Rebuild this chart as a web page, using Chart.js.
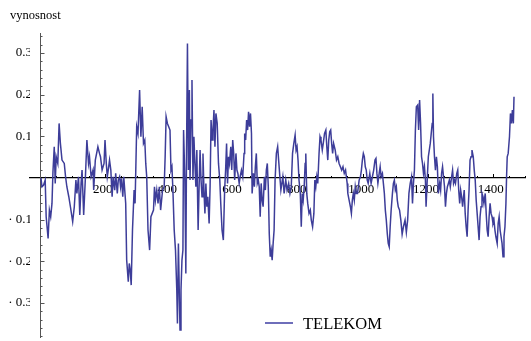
<!DOCTYPE html>
<html>
<head>
<meta charset="utf-8">
<script src="https://cdn.jsdelivr.net/npm/chart.js@4.4.0/dist/chart.umd.min.js"></script>
<style>
  html, body { margin: 0; padding: 0; background: #fff; }
  #wrap { position: relative; width: 531px; height: 341px; }
  #c { display: block; }
  .txt { position: absolute; font-family: 'Liberation Serif', 'Times New Roman', serif; color: #000; line-height: 1; white-space: nowrap; }
  #ytitle { left: 10px; top: 9px; font-size: 12.5px; }
  #legend { left: 265px; top: 316px; font-size: 16.5px; width: 130px; height: 20px; }
  #legend .swatch { position: absolute; left: 0; top: 6px; width: 28px; height: 2px; background: #6e6eba; }
  #legend .name { position: absolute; left: 38px; top: 0; }
</style>
</head>
<body>
<div id="wrap">
  <canvas id="c" width="531" height="341"></canvas>
  <div id="ytitle" class="txt"></div>
  <div id="legend" class="txt"><span class="swatch"></span><span class="name"></span></div>
</div>
<script>
// Trading day index
const days = [
  3,6,11,16,19,25,29,33,37,40,44,47,50,55,59,63,68,75,79,83,89,94,101,106,111,114,119,123,127,130,135,140,145,150,153,158,164,166,171,179,184,
  187,192,198,201,205,208,211,215,219,223,226,231,234,239,242,246,249,252,256,259,265,
  268,273,276,279,282,286,291,294,299,303,308,312,316,320,324,327,330,334,339,343,
  351,354,357,361,365,369,373,
  379,384,387,390,394,398,402,405,408,411,415,419,423,425,428,431,433,436,439,442,444,448,451,453,456,459,462,464,467,470,
  473,476,479,482,485,489,492,495,498,501,504,507,510,513,516,519,523,526,529,532,535,538,541,544,548,552,556,559,563,567,
  571,574,577,580,583,586,590,593,596,599,602,606,609,612,616,619,623,627,631,633,636,639,642,645,648,651,654,656,660,663,
  666,669,672,675,678,681,684,687,690,694,697,700,703,706,709,712,715,718,721,724,727,731,735,738,741,745,748,751,755,
  760,764,769,773,777,781,785,789,792,795,798,801,805,808,811,814,817,820,822,825,828,832,836,839,843,847,850,853,856,859,
  863,866,869,873,876,880,884,887,890,893,896,899,902,905,908,913,917,921,925,929,933,937,941,945,950,
  952,956,960,963,966,969,972,975,978,982,987,991,994,997,1000,1003,1006,1009,1012,1015,1020,1024,1028,1032,1036,1039,1042,1045,1049,1052,
  1055,1059,1062,1065,1068,1071,1074,1077,1080,1083,1086,1090,1093,1096,1099,1102,1105,1108,1112,1116,1120,1124,1129,1133,1137,1141,1145,
  1149,1152,1155,1158,1161,1164,1168,1171,1174,1177,1180,1183,1186,1189,1192,1194,1198,1201,1204,1207,1210,1213,1215,1217,1220,1223,1226,1229,1232,1236,
  1239,1242,1245,1248,1251,1254,1257,1260,1263,1266,1269,1273,1276,1279,1282,1285,1289,1292,1295,1298,1301,1304,1307,1312,1315,1318,1321,1324,1327,1330,
  1333,1336,1340,1343,1346,1349,1352,1355,1358,1361,1364,1367,1370,1373,1377,1380,1383,1386,1389,1392,1395,1398,1401,1404,1407,1410,1414,1417,1420,1423,
  1426,1429,1432,1435,1438,1441,1443,1445,1448,1452,1455,1458,1461,1464,1466
];

// Return (vynosnost) of the TELEKOM series
const returns = [
  0.000,-0.021,-0.017,-0.005,-0.093,-0.145,-0.077,-0.093,-0.061,0.015,0.075,-0.013,0.051,0.035,0.131,0.083,0.043,0.035,0.003,-0.021,-0.045,-0.069,-0.105,-0.069,-0.005,-0.037,0.003,-0.089,-0.013,0.019,-0.089,-0.005,0.091,0.035,0.051,0.003,0.019,-0.029,0.043,0.075,0.059,
  0.051,0.019,0.035,0.091,0.035,0.003,0.019,0.043,0.019,-0.045,0.003,-0.029,0.011,-0.037,-0.005,0.003,-0.021,-0.001,-0.045,0.003,-0.061,
  -0.197,-0.249,-0.205,-0.221,-0.257,-0.125,-0.029,-0.061,0.123,0.107,0.211,0.099,0.171,0.083,0.091,0.035,0.003,-0.125,-0.173,-0.093,
  -0.077,-0.021,-0.053,-0.029,-0.061,-0.021,-0.077,
  -0.029,-0.021,0.051,0.147,0.131,0.123,0.115,0.019,0.027,-0.029,-0.125,-0.173,-0.269,-0.349,-0.157,-0.285,-0.365,-0.269,-0.197,-0.173,0.115,-0.005,-0.229,0.051,0.323,0.019,0.211,-0.005,0.139,0.235,
  -0.005,0.099,0.035,-0.021,0.067,-0.125,-0.021,0.067,-0.005,-0.045,0.059,-0.029,-0.085,-0.013,-0.069,-0.045,-0.109,-0.021,0.139,0.091,0.115,0.163,0.075,0.155,0.131,0.035,-0.005,-0.061,-0.125,-0.149,
  -0.029,0.019,0.083,-0.013,0.051,0.035,0.075,0.019,0.091,0.059,-0.005,0.059,0.019,0.011,-0.013,0.003,0.019,0.003,0.059,0.107,0.091,0.139,0.115,0.159,0.123,0.155,0.107,-0.037,0.011,-0.021,
  0.027,0.059,-0.013,-0.005,-0.021,-0.093,-0.013,-0.053,-0.069,0.003,-0.029,0.019,0.035,-0.021,-0.133,-0.189,-0.173,-0.197,-0.157,-0.125,-0.005,0.059,0.075,0.043,0.011,-0.029,-0.013,0.003,-0.037,
  -0.005,-0.029,-0.013,-0.037,-0.021,0.059,0.083,0.103,0.067,0.075,0.043,-0.005,-0.037,-0.117,-0.037,-0.053,-0.021,0.035,0.059,-0.037,-0.061,-0.085,-0.077,-0.101,-0.117,-0.085,-0.005,-0.021,0.003,-0.013,
  0.059,0.099,0.091,0.067,0.083,0.107,0.115,0.075,0.043,0.091,0.111,0.115,0.083,0.059,0.083,0.067,0.043,0.051,0.035,0.027,0.019,0.027,0.011,0.019,-0.013,
  -0.037,-0.053,-0.069,-0.085,-0.053,-0.037,-0.053,-0.021,-0.037,-0.037,-0.005,0.003,0.019,0.043,0.059,0.051,0.027,0.019,-0.005,-0.013,0.011,-0.013,0.003,0.019,0.043,0.047,0.011,-0.013,0.011,0.027,
  0.003,0.011,-0.013,-0.037,-0.077,-0.101,-0.133,-0.157,-0.165,-0.117,-0.077,-0.037,-0.013,-0.005,-0.029,-0.021,-0.053,-0.069,-0.077,-0.101,-0.135,-0.117,-0.101,-0.130,-0.101,-0.037,-0.013,
  0.003,-0.061,-0.013,0.019,0.115,0.171,0.175,0.115,0.187,0.131,0.051,0.035,0.011,0.027,-0.005,-0.069,0.003,0.051,0.067,0.083,0.107,0.131,0.203,0.099,0.051,0.019,0.051,0.027,-0.037,-0.013,
  -0.029,0.011,0.027,0.003,-0.021,-0.069,-0.037,-0.021,-0.013,-0.005,-0.021,0.003,0.019,-0.013,-0.005,-0.013,0.011,0.019,-0.029,-0.061,-0.029,-0.045,-0.069,-0.029,-0.085,-0.117,-0.141,-0.077,-0.029,0.043,
  0.051,0.067,0.051,0.019,-0.005,-0.053,-0.085,-0.117,-0.149,-0.093,-0.069,-0.037,-0.045,-0.061,-0.037,-0.085,-0.125,-0.141,-0.093,-0.061,-0.085,-0.093,-0.109,-0.101,-0.125,-0.141,-0.157,-0.109,-0.093,-0.125,
  -0.141,-0.157,-0.189,-0.141,-0.117,-0.061,0.003,0.051,0.059,0.099,0.155,0.131,0.163,0.131,0.195
];

const xLabelTicks = [200, 400, 600, 800, 1000, 1200, 1400];
const yLabelTicks = [-0.3, -0.2, -0.1, 0.1, 0.2, 0.3];
const seriesName = 'TELEKOM';
const axisTitle = 'vynosnost';
const lineColor = '#3d3d99';

document.getElementById('ytitle').textContent = axisTitle;
document.querySelector('#legend .name').textContent = seriesName;

// Vertical axis line through x = 0 plus major/minor tick marks on both axes
const axisTicks = {
  id: 'axisTicks',
  beforeDatasetsDraw(chart) {
    const { ctx, chartArea, scales: { x, y } } = chart;
    const x0 = Math.round(x.getPixelForValue(0)) + 0.5;
    const y0 = Math.round(y.getPixelForValue(0));
    ctx.save();
    ctx.lineWidth = 1;
    ctx.strokeStyle = '#555';
    ctx.beginPath();
    ctx.moveTo(x0, chartArea.top);
    ctx.lineTo(x0, chartArea.bottom);
    for (let k = Math.ceil(y.min / 0.02); k <= Math.floor(y.max / 0.02); k++) {
      if (k === 0) continue;
      const py = Math.round(y.getPixelForValue(k * 0.02)) + 0.5;
      const len = (k % 5 === 0) ? 4 : 2;
      ctx.moveTo(x0, py);
      ctx.lineTo(x0 + len, py);
    }
    ctx.stroke();
    ctx.strokeStyle = '#000';
    ctx.beginPath();
    for (let v = 50; v <= x.max; v += 50) {
      const px = Math.round(x.getPixelForValue(v)) + 0.5;
      const len = (v % 200 === 0) ? 4 : 2;
      ctx.moveTo(px, y0);
      ctx.lineTo(px, y0 - len);
    }
    ctx.stroke();
    ctx.restore();
  }
};

const tickFont = { family: "'Liberation Serif', 'Times New Roman', serif", size: 13 };

new Chart(document.getElementById('c'), {
  type: 'line',
  data: {
    datasets: [{
      label: seriesName,
      data: days.map((d, i) => ({ x: d, y: returns[i] })),
      borderColor: lineColor,
      borderWidth: 1.5,
      pointRadius: 0,
      fill: false,
      tension: 0
    }]
  },
  options: {
    responsive: false,
    animation: false,
    devicePixelRatio: 1,
    layout: { padding: { left: 0, top: 33, right: 6, bottom: 3 } },
    plugins: { legend: { display: false }, tooltip: { enabled: false } },
    scales: {
      x: {
        type: 'linear',
        position: { y: 0 },
        min: -31,
        max: 1500,
        grid: { display: false, drawTicks: false },
        border: { display: true, color: '#000', width: 1.2 },
        ticks: {
          autoSkip: false, maxRotation: 0, padding: 4, labelOffset: -2, color: '#000', font: tickFont,
          callback: v => String(v)
        },
        afterBuildTicks: s => { s.ticks = xLabelTicks.map(v => ({ value: v })); },
        afterFit: s => { s.paddingLeft = 0; s.paddingRight = 0; }
      },
      y: {
        type: 'linear',
        position: 'left',
        min: -0.384,
        max: 0.348,
        grid: { display: false, drawTicks: false },
        border: { display: false },
        ticks: {
          autoSkip: false, padding: -2, color: '#000', font: tickFont,
          callback: v => v < 0 ? '\u00b7 ' + Math.abs(v).toFixed(1) : v.toFixed(1)
        },
        afterBuildTicks: s => { s.ticks = yLabelTicks.map(v => ({ value: v })); },
        afterFit: s => { s.width = 30; s.paddingTop = 0; s.paddingBottom = 0; }
      }
    }
  },
  plugins: [axisTicks]
});
</script>
</body>
</html>
